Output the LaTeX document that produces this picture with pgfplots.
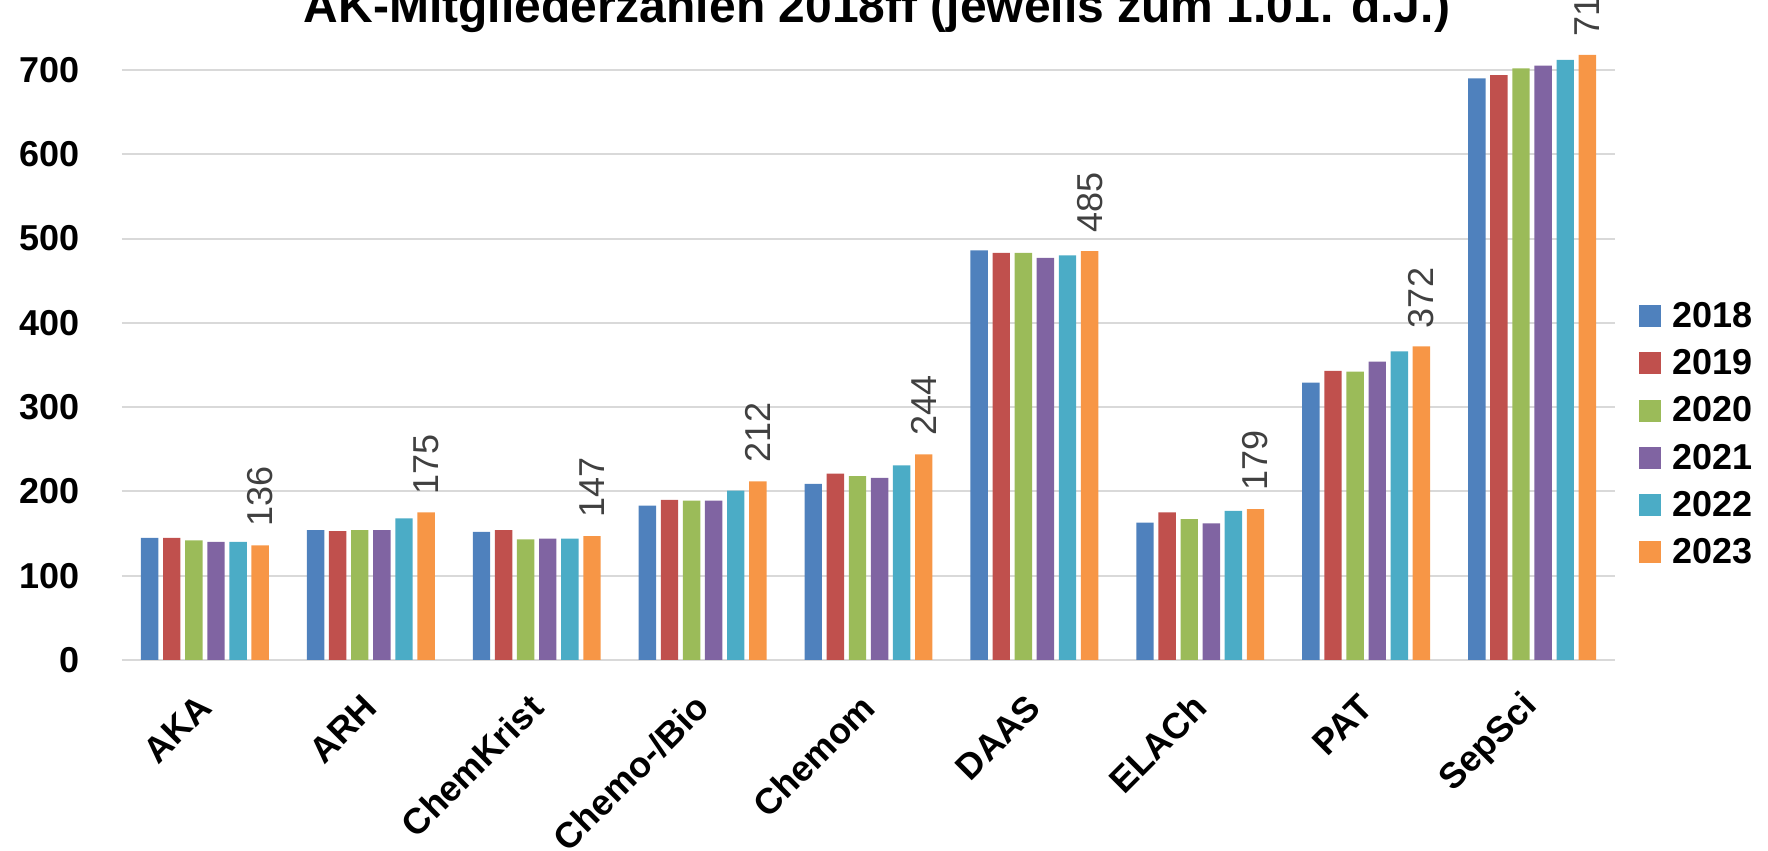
\documentclass[border=0pt]{standalone}
\usepackage{pgfplots}
\usepackage{pgfplotstable}
\pgfplotsset{compat=1.18}
\usepackage{fontspec}
\setmainfont{Liberation Sans}
\definecolor{c1}{HTML}{4F81BD}
\definecolor{c2}{HTML}{C0504D}
\definecolor{c3}{HTML}{9BBB59}
\definecolor{c4}{HTML}{8064A2}
\definecolor{c5}{HTML}{4BACC6}
\definecolor{c6}{HTML}{F79646}
\definecolor{gridc}{HTML}{D9D9D9}
\definecolor{labc}{HTML}{404040}
\pgfplotstableread{
x y2018 y2019 y2020 y2021 y2022 y2023
0 145 145 142 140 140 136
1 154 153 154 154 168 175
2 152 154 143 144 144 147
3 183 190 189 189 201 212
4 209 221 218 216 231 244
5 486 483 483 477 480 485
6 163 175 167 162 177 179
7 329 343 342 354 366 372
8 690 694 702 705 712 718
}\data
\begin{document}
\begin{tikzpicture}
\begin{axis}[
  scale only axis,
  width=746.5pt, height=316.1pt,
  xmin=-0.5, xmax=8.5, ymin=0, ymax=750,
  ybar=2.35pt, bar width=8.7pt,
  axis line style={draw=none},
  ymajorgrids, major grid style={draw=gridc, line width=1pt},
  ytick={0,100,...,700},
  xtick=data,
  xticklabels={AKA,ARH,ChemKrist,Chemo-/Bio,Chemom,DAAS,ELACh,PAT,SepSci},
  major tick length=0pt,
  /pgf/number format/assume math mode=true,
  yticklabel style={font=\fontsize{18}{20}\selectfont\bfseries, anchor=east, inner sep=0pt, xshift=-21pt},
  xticklabel style={font=\fontsize{18}{20}\selectfont\bfseries, yshift=-20.5pt, rotate=45, anchor=east, inner sep=0pt},
  clip=false,
  legend style={at={(axis description cs:1.0161,0.3597)}, anchor=west, draw=none, fill=none,
    inner sep=0pt, row sep=10.7pt, column sep=5.5pt,
    font=\fontsize{18}{20}\selectfont\bfseries,
    nodes={inner sep=0pt, text height=12.9pt, text depth=0pt}},
  legend cell align=left,
  legend image code/.code={\fill[#1] (0pt,-6.3pt) rectangle (11pt,4.7pt);},
]
\addplot[fill=c1, draw=none] table[x=x,y=y2018]{\data};
\addplot[fill=c2, draw=none] table[x=x,y=y2019]{\data};
\addplot[fill=c3, draw=none] table[x=x,y=y2020]{\data};
\addplot[fill=c4, draw=none] table[x=x,y=y2021]{\data};
\addplot[fill=c5, draw=none] table[x=x,y=y2022]{\data};
\addplot[fill=c6, draw=none,
  nodes near coords,
  every node near coord/.append style={rotate=90, anchor=west, inner xsep=9pt, inner ysep=0pt,
    text=labc, font=\fontsize{18}{20}\selectfont}] table[x=x,y=y2023]{\data};
\legend{2018,2019,2020,2021,2022,2023}
\end{axis}
\node[anchor=base, font=\fontsize{24}{26}\selectfont\bfseries] at (377.5pt,318.8pt) {AK-Mitgliederzahlen 2018ff (jeweils zum 1.01. d.J.)};
\pgfresetboundingbox
\useasboundingbox (-61pt,-95.5pt) rectangle (823pt,330pt);
\end{tikzpicture}
\end{document}
